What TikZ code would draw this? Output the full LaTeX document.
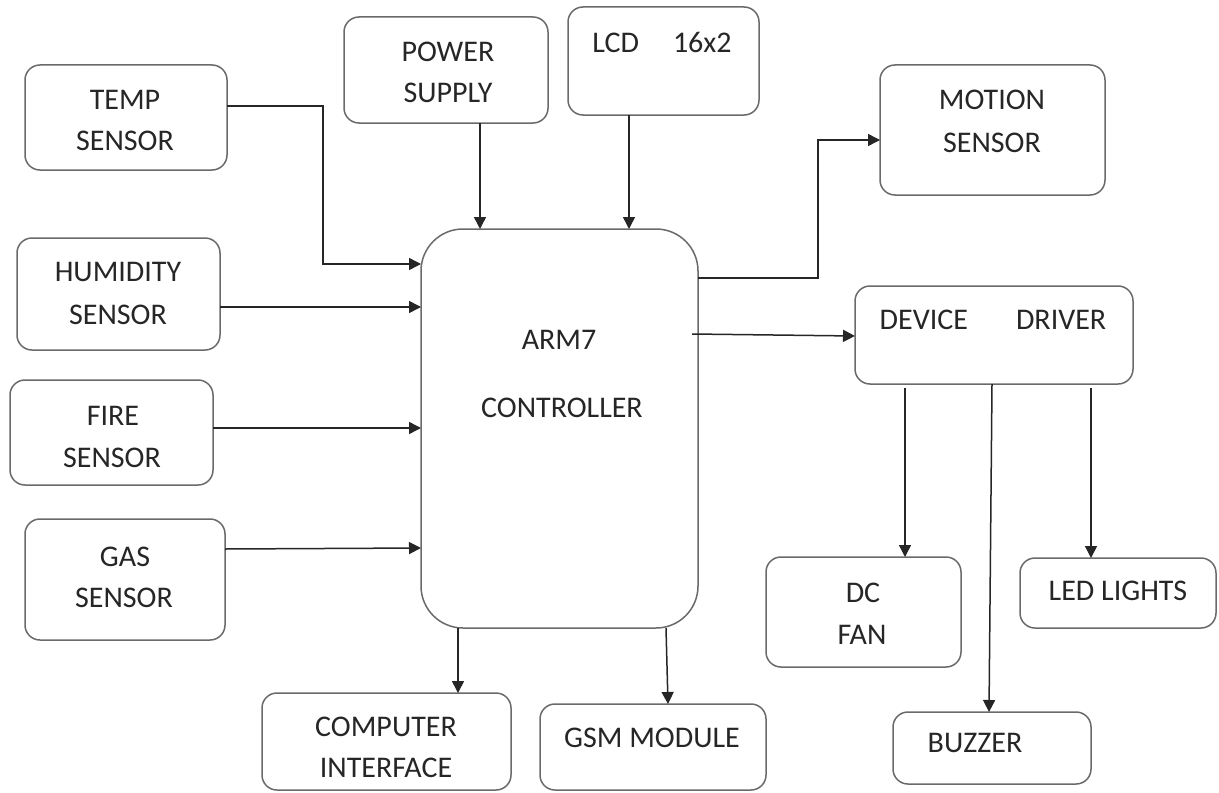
\documentclass[tikz,border=0pt]{standalone}
\usepackage{fontspec}
\setmainfont{Carlito}
\usetikzlibrary{arrows.meta,fit}
\definecolor{boxc}{HTML}{6A6A6A}
\definecolor{arrc}{HTML}{262626}
\definecolor{txtc}{HTML}{262626}
\begin{document}
\begin{tikzpicture}[x=0.5pt,y=-0.5pt,
  box/.style={draw=boxc, line width=0.75pt, rounded corners=7.5pt, inner sep=0pt, outer sep=0pt},
  bigbox/.style={box, rounded corners=21pt},
  lbl/.style={text=txtc, font=\fontsize{15}{18}\selectfont, inner sep=0pt, anchor=center},
  arr/.style={draw=arrc, line width=0.75pt, -{Triangle[length=6pt,width=6pt]}}]
\fill[white] (0,0) rectangle (1219,792);
\useasboundingbox (0,0) rectangle (1219,792);

% boxes
\node[box, fit={(25,65) (227,170)}] (temp) {};
\node[box, fit={(17,238) (220,350)}] (hum) {};
\node[box, fit={(10,380) (213,485)}] (fire) {};
\node[box, fit={(25,519) (225,640)}] (gas) {};
\node[box, fit={(344,17) (548,123)}] (pwr) {};
\node[box, fit={(568,7) (759,115)}] (lcd) {};
\node[box, fit={(880,65) (1105,195)}] (mot) {};
\node[bigbox, fit={(421,229) (698,628)}] (arm) {};
\node[box, fit={(855,286) (1133,384)}] (drv) {};
\node[box, fit={(262,693) (511,790)}] (pc) {};
\node[box, fit={(540,704) (766,790)}] (gsm) {};
\node[box, fit={(766,557) (961,667)}] (fan) {};
\node[box, fit={(1020,558) (1216,628)}] (led) {};
\node[box, fit={(893,712) (1091,784)}] (buz) {};

% labels
\node[lbl] (tempA) at (125,100) {TEMP};
\node[lbl] (tempB) at (125,141) {SENSOR};
\node[lbl] (humA) at (118,272) {HUMIDITY};
\node[lbl] (humB) at (118,315) {SENSOR};
\node[lbl] (fireA) at (113,416) {FIRE};
\node[lbl] (fireB) at (112,458) {SENSOR};
\node[lbl] (gasA) at (125,557) {GAS};
\node[lbl] (gasB) at (124,598) {SENSOR};
\node[lbl] (pwrA) at (448,52) {POWER};
\node[lbl] (pwrB) at (448,93) {SUPPLY};
\node[lbl] (lcdA) at (662,42) {LCD\hspace{17pt}16x2};
\node[lbl] (motA) at (992,100) {MOTION};
\node[lbl] (motB) at (992,143) {SENSOR};
\node[lbl] (armA) at (559,340) {ARM7};
\node[lbl] (armB) at (562,408) {CONTROLLER};
\node[lbl] (drvA) at (993,320) {DEVICE\hspace{24pt}DRIVER};
\node[lbl] (pcA) at (386,727) {COMPUTER};
\node[lbl] (pcB) at (386,768) {INTERFACE};
\node[lbl] (gsmA) at (652,738) {GSM MODULE};
\node[lbl] (fanA) at (863,593) {DC};
\node[lbl] (fanB) at (862,635) {FAN};
\node[lbl] (ledA) at (1118,591) {LED LIGHTS};
\node[lbl] (buzA) at (975,743) {BUZZER};

% connectors
\draw[arr] (temp.east |- 0,106) -| (323,264) -- (arm.west |- 0,264);
\draw[arr] (hum.east |- 0,307) -- (arm.west |- 0,307);
\draw[arr] (fire.east |- 0,428) -- (arm.west |- 0,428);
\draw[arr] (gas.east |- 0,549) -- (arm.west |- 0,548);
\draw[arr] (pwr.south -| 480,0) -- (arm.north -| 480,0);
\draw[arr] (lcd.south -| 629,0) -- (arm.north -| 629,0);
\draw[arr] (arm.east |- 0,278) -| (818,140) -- (mot.west |- 0,140);
\draw[arr] (692,334) -- (drv.west |- 0,336);
\draw[arr] (arm.south -| 458,0) -- (pc.north -| 458,0);
\draw[arr] (arm.south -| 666,0) -- (gsm.north -| 668,0);
\draw[arr] (905,388) -- (fan.north -| 905,0);
\draw[arr] (drv.south -| 992,0) -- (buz.north -| 989,0);
\draw[arr] (1091,388) -- (led.north -| 1091,0);
\end{tikzpicture}
\end{document}
